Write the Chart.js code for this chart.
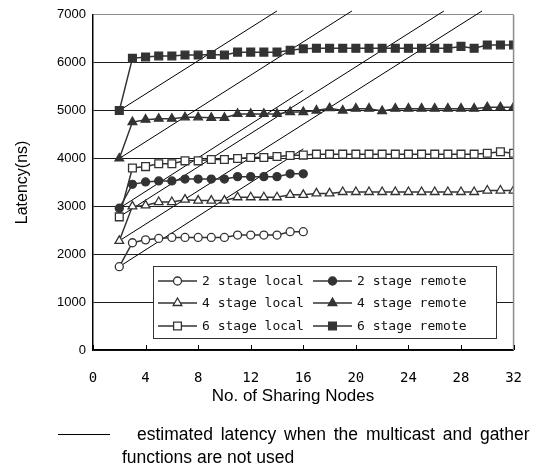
<!DOCTYPE html>
<html>
<head>
<meta charset="utf-8">
<script src="https://cdn.jsdelivr.net/npm/chart.js@4.4.1/dist/chart.umd.min.js"></script>
<style>
  html, body { margin: 0; padding: 0; background: #fff; }
  #wrap { position: relative; width: 542px; height: 468px; }
  .note { position: absolute; font-family: "Liberation Sans", Arial, sans-serif; font-size: 17.5px; line-height: 20px; color: #000; white-space: nowrap; }
</style>
</head>
<body>
<div id="wrap">
  <canvas id="latencyChart" width="542" height="468"></canvas>
  <div style="position:absolute;left:58px;top:434px;width:52px;border-top:1px solid #000;"></div>
  <div class="note" style="left:137px;top:424px;word-spacing:3px;">estimated latency when the multicast and gather</div>
  <div class="note" style="left:122px;top:447px;">functions are not used</div>
</div>
<script>
// x values (no. of sharing nodes)
var nodesShort = [2, 3, 4, 5, 6, 7, 8, 9, 10, 11, 12, 13, 14, 15, 16];
var nodesLong = [2, 3, 4, 5, 6, 7, 8, 9, 10, 11, 12, 13, 14, 15, 16,
                 17, 18, 19, 20, 21, 22, 23, 24, 25, 26, 27, 28, 29, 30, 31, 32];

// measured latency (ns)
var local2 = [1740, 2240, 2300, 2330, 2350, 2350, 2350, 2350, 2350, 2400, 2400, 2400, 2400, 2470, 2470];
var remote2 = [2960, 3460, 3510, 3530, 3530, 3570, 3570, 3570, 3570, 3620, 3620, 3620, 3620, 3680, 3680];
var local4 = [2280, 3000, 3020, 3090, 3090, 3140, 3120, 3120, 3120, 3190, 3190, 3190, 3190, 3240, 3240,
              3270, 3270, 3300, 3300, 3300, 3300, 3300, 3300, 3300, 3300, 3300, 3300, 3300, 3330, 3330, 3330];
var remote4 = [4000, 4760, 4810, 4830, 4830, 4860, 4860, 4850, 4850, 4930, 4930, 4930, 4930, 4970, 4970,
               5000, 5050, 5000, 5040, 5040, 4990, 5040, 5040, 5040, 5040, 5040, 5040, 5040, 5070, 5070, 5070];
var local6 = [2780, 3800, 3830, 3890, 3890, 3950, 3950, 3980, 3980, 4000, 4020, 4020, 4040, 4060, 4070,
              4090, 4090, 4090, 4090, 4090, 4090, 4090, 4090, 4090, 4090, 4090, 4090, 4090, 4110, 4140, 4110];
var remote6 = [5000, 6090, 6120, 6140, 6140, 6160, 6160, 6170, 6160, 6220, 6220, 6220, 6220, 6260, 6290,
               6300, 6300, 6300, 6300, 6300, 6300, 6300, 6300, 6300, 6300, 6300, 6340, 6300, 6370, 6370, 6370];

// estimated latency lines (start and end points)
var estLocal2X = [2, 16],    estLocal2Y = [1740, 4200];
var estRemote2X = [2, 16],   estRemote2Y = [2960, 5420];
var estLocal4X = [2, 29.6],  estLocal4Y = [2280, 7080];
var estRemote4X = [2, 19.7], estRemote4Y = [4000, 7080];
var estLocal6X = [2, 26.7],  estLocal6Y = [2780, 7080];
var estRemote6X = [2, 14.0], estRemote6Y = [5000, 7080];

var xTicks = [0, 4, 8, 12, 16, 20, 24, 28, 32];

function pts(xs, ys) {
    return xs.map(function (x, i) { return { x: x, y: ys[i] }; });
}

var dark = '#333333';

function series(label, xs, ys, style, filled, r) {
    return {
        label: label,
        data: pts(xs, ys),
        borderColor: dark,
        borderWidth: 1.5,
        backgroundColor: filled ? dark : '#ffffff',
        pointStyle: style,
        pointRadius: r,
        pointBorderWidth: 1.3,
        pointBorderColor: dark,
        pointBackgroundColor: filled ? dark : '#ffffff',
        tension: 0,
        order: 1
    };
}

function estLine(xs, ys) {
    return {
        label: 'estimated',
        data: pts(xs, ys),
        borderColor: '#000000',
        borderWidth: 1,
        pointRadius: 0,
        clip: false,
        order: 2
    };
}

var datasets = [
    series('2 stage local', nodesShort, local2, 'circle', false, 4),
    series('2 stage remote', nodesShort, remote2, 'circle', true, 4),
    series('4 stage local', nodesLong, local4, 'triangle', false, 5),
    series('4 stage remote', nodesLong, remote4, 'triangle', true, 5),
    series('6 stage local', nodesLong, local6, 'rect', false, 5.5),
    series('6 stage remote', nodesLong, remote6, 'rect', true, 5.5),
    estLine(estLocal2X, estLocal2Y),
    estLine(estRemote2X, estRemote2Y),
    estLine(estLocal4X, estLocal4Y),
    estLine(estRemote4X, estRemote4Y),
    estLine(estLocal6X, estLocal6Y),
    estLine(estRemote6X, estRemote6Y)
];

function drawMarker(ctx, style, x, y, r, filled) {
    ctx.save();
    ctx.beginPath();
    if (style === 'circle') {
        ctx.arc(x, y, r, 0, Math.PI * 2);
    } else if (style === 'triangle') {
        for (var k = 0; k < 3; k++) {
            var a = k * Math.PI * 2 / 3;
            var px = x + Math.sin(a) * r, py = y - Math.cos(a) * r;
            if (k === 0) ctx.moveTo(px, py); else ctx.lineTo(px, py);
        }
        ctx.closePath();
    } else {
        var s = Math.SQRT1_2 * r;
        ctx.rect(x - s, y - s, 2 * s, 2 * s);
    }
    ctx.fillStyle = filled ? dark : '#ffffff';
    ctx.fill();
    ctx.lineWidth = 1.3;
    ctx.strokeStyle = dark;
    ctx.stroke();
    ctx.restore();
}

// frame, inward x ticks, x title and the boxed legend inside the plot
var framePlugin = {
    id: 'frame',
    afterDatasetsDraw: function (chart) {
        var ctx = chart.ctx, area = chart.chartArea, xs = chart.scales.x;
        ctx.save();
        ctx.strokeStyle = '#8c8c8c';
        ctx.lineWidth = 1.5;
        ctx.beginPath();
        ctx.moveTo(area.right, area.top);
        ctx.lineTo(area.right, area.bottom);
        ctx.stroke();

        ctx.strokeStyle = '#000';
        ctx.lineWidth = 1;
        xTicks.forEach(function (v) {
            var px = Math.round(xs.getPixelForValue(v)) + 0.5;
            ctx.beginPath();
            ctx.moveTo(px, area.bottom);
            ctx.lineTo(px, area.bottom - 5);
            ctx.stroke();
        });

        ctx.fillStyle = '#000';
        ctx.font = '17px "Liberation Sans", Arial, sans-serif';
        ctx.textAlign = 'center';
        ctx.textBaseline = 'middle';
        ctx.fillText('No. of Sharing Nodes', 293, 396);

        // legend box
        var bx = 153, by = 266, bw = 343, bh = 72;
        ctx.fillStyle = '#fff';
        ctx.fillRect(bx, by, bw, bh);
        ctx.strokeStyle = dark;
        ctx.lineWidth = 1;
        ctx.strokeRect(bx + 0.5, by + 0.5, bw, bh);

        var cols = [[0, 2, 4], [1, 3, 5]];
        var colX = [158, 313];
        var rowY = [281, 303, 326];
        ctx.font = '13px "DejaVu Sans Mono", monospace';
        ctx.textAlign = 'left';
        cols.forEach(function (col, ci) {
            col.forEach(function (di, ri) {
                var ds = chart.data.datasets[di];
                var x0 = colX[ci], y0 = rowY[ri];
                ctx.strokeStyle = dark;
                ctx.lineWidth = 1.5;
                ctx.beginPath();
                ctx.moveTo(x0, y0);
                ctx.lineTo(x0 + 39, y0);
                ctx.stroke();
                drawMarker(ctx, ds.pointStyle, x0 + 19.5, y0, ds.pointRadius, ds.pointBackgroundColor === dark);
                ctx.fillStyle = '#111';
                ctx.fillText(ds.label, x0 + 44, y0 + 1);
            });
        });
        ctx.restore();
    }
};

var ctx = document.getElementById('latencyChart').getContext('2d');
var latencyChart = new Chart(ctx, {
    type: 'line',
    data: { datasets: datasets },
    options: {
        responsive: false,
        animation: false,
        layout: { padding: { left: 0, right: 24, top: 11, bottom: 62 } },
        plugins: {
            legend: { display: false },
            tooltip: { enabled: false }
        },
        scales: {
            x: {
                type: 'linear',
                min: 0,
                max: 32,
                afterFit: function (scale) { scale.height = 56; },
                afterBuildTicks: function (scale) {
                    scale.ticks = xTicks.map(function (v) { return { value: v }; });
                },
                grid: { display: true, drawOnChartArea: false, drawTicks: false },
                border: { display: true, color: '#000', width: 1.5 },
                ticks: {
                    padding: 20,
                    color: '#000',
                    maxRotation: 0,
                    font: { family: '"DejaVu Sans Mono", monospace', size: 14 }
                }
            },
            y: {
                min: 0,
                max: 7000,
                afterFit: function (scale) { scale.width = 93; },
                ticks: {
                    stepSize: 1000,
                    padding: 7,
                    color: '#000',
                    font: { family: '"Liberation Sans", Arial, sans-serif', size: 13 },
                    callback: function (v) { return String(v); }
                },
                grid: {
                    drawTicks: false,
                    lineWidth: 1,
                    color: function (c) { return c.tick && c.tick.value === 7000 ? '#8c8c8c' : '#1a1a1a'; }
                },
                border: { display: true, color: '#000', width: 1.5 },
                title: {
                    display: true,
                    text: 'Latency(ns)',
                    color: '#000',
                    padding: { top: 13, bottom: 0 },
                    font: { family: '"Liberation Sans", Arial, sans-serif', size: 16 }
                }
            }
        }
    },
    plugins: [framePlugin]
});
</script>
</body>
</html>
